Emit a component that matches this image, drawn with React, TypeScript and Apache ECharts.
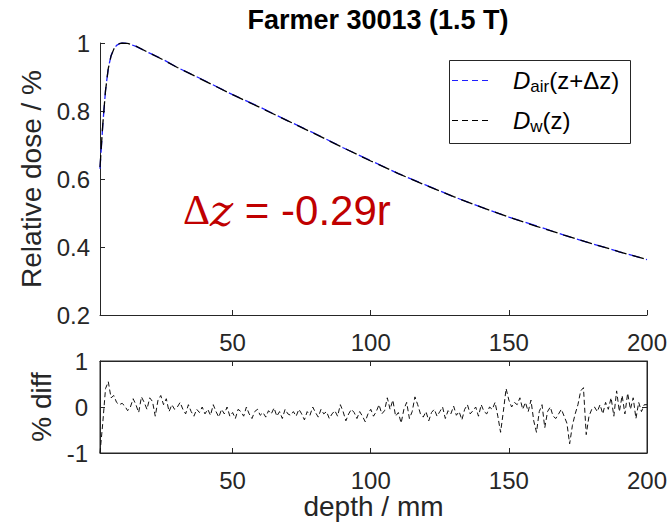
import React, { useEffect, useRef } from 'react';
import * as echarts from 'echarts';

// ---------- data ----------
const doseDepth = [2, 3, 4, 5, 6, 7, 8, 9, 10, 12, 15, 20, 25, 30, 40, 50, 60, 70, 80, 90, 100, 110, 120, 130, 140, 150, 160, 170, 180, 190, 200];
const doseWater = [0.635, 0.76, 0.86, 0.925, 0.962, 0.982, 0.993, 0.998, 1.0, 0.999, 0.991, 0.970, 0.950, 0.928, 0.888, 0.848, 0.810, 0.771, 0.732, 0.692, 0.653, 0.616, 0.581, 0.548, 0.517, 0.488, 0.461, 0.435, 0.410, 0.386, 0.363];
const doseAir = [0.630, 0.758, 0.861, 0.926, 0.963, 0.982, 0.993, 0.998, 1.0, 0.999, 0.990, 0.970, 0.951, 0.928, 0.889, 0.848, 0.811, 0.771, 0.733, 0.692, 0.654, 0.616, 0.582, 0.548, 0.517, 0.488, 0.462, 0.435, 0.410, 0.386, 0.363];

const diffDepth = [
  2, 3, 4, 5, 6, 7, 8, 9, 10, 11,
  12, 13, 14, 15, 16, 17, 18, 19, 20, 21,
  22, 23, 24, 25, 26, 27, 28, 29, 30, 31,
  32, 33, 34, 35, 36, 37, 38, 39, 40, 41,
  42, 43, 44, 45, 46, 47, 48, 49, 50, 51,
  52, 53, 54, 55, 56, 57, 58, 59, 60, 61,
  62, 63, 64, 65, 66, 67, 68, 69, 70, 71,
  72, 73, 74, 75, 76, 77, 78, 79, 80, 81,
  82, 83, 84, 85, 86, 87, 88, 89, 90, 91,
  92, 93, 94, 95, 96, 97, 98, 99, 100, 101,
  102, 103, 104, 105, 106, 107, 108, 109, 110, 111,
  112, 113, 114, 115, 116, 117, 118, 119, 120, 121,
  122, 123, 124, 125, 126, 127, 128, 129, 130, 131,
  132, 133, 134, 135, 136, 137, 138, 139, 140, 141,
  142, 143, 144, 145, 146, 147, 148, 149, 150, 151,
  152, 153, 154, 155, 156, 157, 158, 159, 160, 161,
  162, 163, 164, 165, 166, 167, 168, 169, 170, 171,
  172, 173, 174, 175, 176, 177, 178, 179, 180, 181,
  182, 183, 184, 185, 186, 187, 188, 189, 190, 191,
  192, 193, 194, 195, 196, 197, 198, 199, 200,
];
const diffValues = [
  -1.00, -0.35, 0.40, 0.55, 0.20, 0.25, 0.10, 0.05, 0.08, 0.02,
  -0.08, 0.00, 0.18, 0.05, -0.12, 0.22, 0.10, -0.05, 0.20, 0.12,
  -0.20, 0.15, 0.25, 0.05, 0.18, -0.10, 0.05, -0.05, 0.00, 0.10,
  -0.05, -0.15, 0.05, -0.10, -0.20, -0.05, -0.12, 0.00, -0.15, -0.05,
  -0.18, 0.05, -0.10, -0.22, -0.05, -0.15, 0.00, -0.20, -0.12, -0.25,
  -0.05, -0.10, -0.20, 0.00, -0.15, -0.25, -0.10, -0.05, -0.18, -0.12,
  -0.22, -0.08, -0.15, -0.02, -0.20, -0.10, -0.25, -0.05, -0.15, -0.18,
  -0.10, -0.20, -0.05, -0.15, -0.28, -0.10, -0.18, 0.00, -0.12, -0.22,
  -0.05, -0.15, -0.10, -0.25, -0.15, -0.08, -0.20, 0.05, -0.10, -0.30,
  -0.15, -0.05, -0.12, -0.25, -0.10, -0.20, -0.32, -0.15, -0.05, -0.20,
  -0.10, 0.05, -0.15, -0.08, 0.20, -0.05, 0.15, -0.20, -0.12, -0.35,
  -0.05, 0.10, -0.25, -0.10, 0.22, 0.05, -0.15, -0.22, -0.10, -0.30,
  -0.12, -0.05, -0.20, -0.10, 0.00, -0.25, -0.08, -0.15, 0.02, -0.18,
  -0.10, -0.28, -0.05, 0.05, -0.15, -0.08, 0.00, -0.20, 0.05, -0.10,
  -0.15, 0.00, -0.05, 0.10, -0.20, -0.55, -0.10, 0.40, 0.15, 0.00,
  0.10, 0.05, 0.20, -0.05, 0.10, -0.10, 0.15, -0.30, -0.55, -0.10,
  0.05, -0.45, -0.10, 0.00, -0.20, -0.25, -0.15, -0.05, -0.20, -0.35,
  -0.80, -0.40, -0.15, 0.05, 0.35, 0.42, -0.60, -0.20, -0.05, 0.00,
  -0.10, 0.05, -0.15, 0.10, -0.05, 0.20, -0.20, 0.35, -0.10, 0.25,
  -0.15, 0.30, -0.05, 0.20, -0.25, 0.10, -0.10, 0.05, 0.05,
];

const xTicks = [50, 100, 150, 200];
const xTopTicks = [50, 100, 150];
const titleText = 'Farmer 30013 (1.5 T)';
const yLabelTop = 'Relative dose / %';
const yLabelBottom = '% diff';
const xLabel = 'depth / mm';
const annotation = ' = -0.29r';
const legendAir = '{i|D}{s|air}{n|(z+Δz)}';
const legendWater = '{i|D}{s|w}{n|(z)}';

const AX = '#262626';
const BLUE = '#1f1fff';
const FONT = '"Liberation Sans", Arial, sans-serif';

export default function App() {
  const ref = useRef<HTMLDivElement>(null);
  useEffect(() => {
    if (!ref.current) return;
    const chart = echarts.init(ref.current, null, { renderer: 'svg' });
    const tickStyle = { color: AX, width: 1 };
    const labelBase = { color: AX, fontSize: 24, fontFamily: FONT };
    const legendRich = {
      i: { fontSize: 24, fontStyle: 'italic', fontFamily: FONT, fill: '#000', lineHeight: 30 },
      s: { fontSize: 17, fontFamily: FONT, fill: '#000', lineHeight: 14, verticalAlign: 'bottom' },
      n: { fontSize: 24, fontFamily: FONT, fill: '#000', lineHeight: 30 },
    };
    chart.setOption({
      animation: false,
      backgroundColor: '#fff',
      title: {
        text: titleText,
        left: 373,
        textAlign: 'center',
        top: 1,
        textStyle: { fontSize: 27, fontWeight: 'bold', color: '#000', fontFamily: FONT },
      },
      grid: [
        { left: 100, top: 43, width: 547, height: 272 },
        { left: 100, top: 361, width: 547, height: 92, show: true, borderColor: AX, borderWidth: 1, backgroundColor: 'transparent' },
      ],
      xAxis: [
        {
          gridIndex: 0, type: 'value', min: 2, max: 200,
          axisLine: { show: true, onZero: false, lineStyle: tickStyle },
          axisTick: { show: true, inside: true, length: 5, customValues: xTicks, lineStyle: tickStyle },
          axisLabel: { ...labelBase, margin: 15, customValues: xTicks },
          splitLine: { show: false },
        },
        {
          gridIndex: 1, type: 'value', min: 2, max: 200,
          name: xLabel, nameLocation: 'middle', nameGap: 39,
          nameTextStyle: { color: AX, fontSize: 28, fontFamily: FONT },
          axisLine: { show: true, onZero: false, lineStyle: tickStyle },
          axisTick: { show: true, inside: true, length: 5, customValues: xTicks, lineStyle: tickStyle },
          axisLabel: { ...labelBase, margin: 15, customValues: xTicks },
          splitLine: { show: false },
        },
        {
          gridIndex: 1, type: 'value', min: 2, max: 200, position: 'top',
          axisLine: { show: true, onZero: false, lineStyle: tickStyle },
          axisTick: { show: true, inside: true, length: 5, customValues: xTopTicks, lineStyle: tickStyle },
          axisLabel: { show: false },
          splitLine: { show: false },
        },
      ],
      yAxis: [
        {
          gridIndex: 0, type: 'value', min: 0.2, max: 1, interval: 0.2,
          name: yLabelTop, nameLocation: 'middle', nameGap: 54, nameRotate: 90,
          nameTextStyle: { color: AX, fontSize: 28, fontFamily: FONT },
          axisLine: { show: true, onZero: false, lineStyle: tickStyle },
          axisTick: { show: true, inside: true, length: 5, lineStyle: tickStyle },
          axisLabel: { ...labelBase, margin: 10 },
          splitLine: { show: false },
        },
        {
          gridIndex: 1, type: 'value', min: -1, max: 1, interval: 1,
          name: yLabelBottom, nameLocation: 'middle', nameGap: 42, nameRotate: 90,
          nameTextStyle: { color: AX, fontSize: 28, fontFamily: FONT },
          axisLine: { show: true, onZero: false, lineStyle: tickStyle },
          axisTick: { show: true, inside: true, length: 5, lineStyle: tickStyle },
          axisLabel: { ...labelBase, margin: 12 },
          splitLine: { show: false },
        },
        {
          gridIndex: 1, type: 'value', min: -1, max: 1, interval: 1, position: 'right',
          axisLine: { show: true, onZero: false, lineStyle: tickStyle },
          axisTick: { show: true, inside: true, length: 5, lineStyle: tickStyle },
          axisLabel: { show: false },
          splitLine: { show: false },
        },
      ],
      series: [
        {
          name: 'air', type: 'line', xAxisIndex: 0, yAxisIndex: 0, symbol: 'none', smooth: false,
          data: doseDepth.map((d, i) => [d, doseAir[i]]),
          lineStyle: { color: BLUE, width: 1.3, type: [12, 6], dashOffset: 2 },
          itemStyle: { color: BLUE },
        },
        {
          name: 'w', type: 'line', xAxisIndex: 0, yAxisIndex: 0, symbol: 'none', smooth: false,
          data: doseDepth.map((d, i) => [d, doseWater[i]]),
          lineStyle: { color: '#000', width: 1.3, type: [12, 6] },
          itemStyle: { color: '#000' },
        },
        {
          name: 'diff', type: 'line', xAxisIndex: 1, yAxisIndex: 1, symbol: 'none', smooth: false,
          data: diffDepth.map((d, i) => [d, diffValues[i]]),
          lineStyle: { color: '#111', width: 1, type: [5, 3] },
          itemStyle: { color: '#111' },
        },
      ],
      graphic: [
        {
          type: 'group', z: 100,
          children: [
            { type: 'rect', shape: { x: 449.5, y: 60.5, width: 181, height: 83 }, style: { fill: '#fff', stroke: AX, lineWidth: 1 } },
            { type: 'line', shape: { x1: 452, y1: 80.5, x2: 489, y2: 80.5 }, style: { stroke: BLUE, lineWidth: 1, lineDash: [6, 4] } },
            { type: 'line', shape: { x1: 452, y1: 120.5, x2: 489, y2: 120.5 }, style: { stroke: '#000', lineWidth: 1, lineDash: [6, 4] } },
            { type: 'text', x: 513, y: 80, style: { text: legendAir, rich: legendRich, verticalAlign: 'middle', align: 'left' } },
            { type: 'text', x: 513, y: 120, style: { text: legendWater, rich: legendRich, verticalAlign: 'middle', align: 'left' } },
          ],
        },
        {
          type: 'text',
          left: 183,
          top: 188,
          style: {
            text: '{a|Δ}{b|z}{c|' + annotation + '}',
            rich: {
              a: { fontSize: 42, fontFamily: '"Liberation Serif", "DejaVu Serif", serif', fill: '#c00000' },
              b: { fontSize: 44, fontStyle: 'italic', fontFamily: '"DejaVu Serif", "Liberation Serif", serif', fill: '#c00000' },
              c: { fontSize: 42, fontFamily: FONT, fill: '#c00000' },
            },
          },
        },
      ],
    });
    return () => chart.dispose();
  }, []);
  return <div ref={ref} style={{ position: 'absolute', left: 0, top: 0, width: 672, height: 532 }} />;
}
